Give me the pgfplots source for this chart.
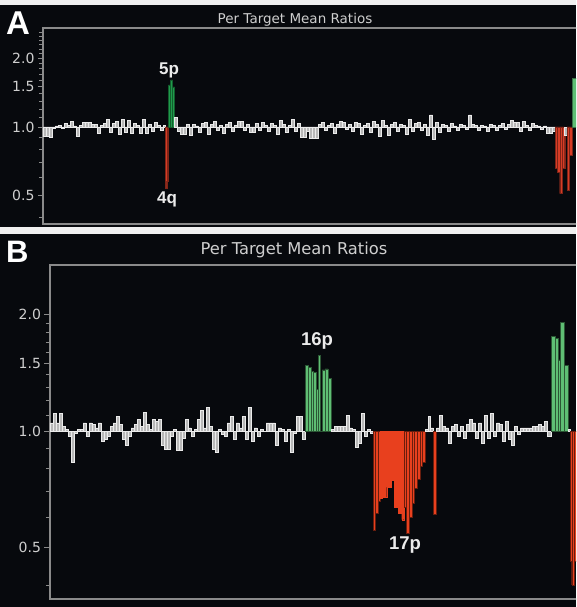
\documentclass[border=0pt]{standalone}
\usepackage{pgfplots}
\pgfplotsset{compat=1.18}
\usepackage{fontspec}
\setmainfont{DejaVu Sans}
\newfontfamily\lab{Liberation Sans}
\definecolor{bg}{HTML}{07090D}
\definecolor{framec}{HTML}{8A8A8A}
\definecolor{labc}{HTML}{CFCFCF}
\definecolor{redA}{HTML}{D63C26}
\definecolor{greenA}{HTML}{1F9A4B}
\definecolor{redB}{HTML}{E8401E}
\definecolor{greenB}{HTML}{5FBE74}
\pgfplotsset{
  wbar/.style={ybar interval, draw=white!92!black, fill=white!72!black, line width=0.6pt},
}
\begin{document}
\begin{tikzpicture}
\useasboundingbox (0pt,0pt) rectangle (576pt,607pt);
\clip (0pt,0pt) rectangle (576pt,607pt);
\fill[white!94!black] (0pt,0pt) rectangle (576pt,607pt);
\fill[bg] (0pt,380pt) rectangle (576pt,602pt);
\fill[bg] (0pt,0pt) rectangle (576pt,373pt);
% ---------------- Panel A
\begin{axis}[scale only axis, anchor=south west, ymode=log,
    xtick=\empty, ytick={0.5,1,1.5,2}, yticklabels={0.5,1.0,1.5,2.0},
    minor ytick={0.4,0.6,0.7,0.8,0.9,1.1,1.2,1.3,1.4,1.6,1.7,1.8,1.9,2.1,2.2,2.3,2.4,2.5,2.6},
    tick align=outside, ytick pos=left,
    axis line style={draw=framec, line width=1.2pt},
    major tick style={draw=framec, line width=0.9pt},
    minor tick style={draw=framec, line width=0.8pt},
    major tick length=5pt, minor tick length=3.5pt,
    yticklabel style={text=labc, font=\fontsize{14}{14}\selectfont},
  at={(43pt,383pt)}, width=539pt, height=196pt,
  xmin=43, xmax=582, ymin=0.375, ymax=2.72]
\addplot[wbar] coordinates {(43,0.91)(46,0.91)(49,0.90)(52,0.99)(55,1.01)(58,1.02)(61,0.99)(64,1.04)(67,1.02)(70,1.06)(73,1.01)(76,0.91)(79,1.02)(82,1.05)(85,1.05)(88,1.05)(91,1.03)(94,1.03)(97,0.94)(100,1.02)(103,1.04)(106,1.08)(109,0.95)(112,1.04)(115,1.06)(118,0.93)(121,1.08)(124,0.95)(127,1.07)(130,0.94)(133,1.04)(136,1.02)(139,0.94)(142,1.08)(145,0.94)(148,1.03)(151,0.96)(154,1.05)(157,1.02)(160,0.97)(163,1.02)(165,1)};
\addplot[ybar interval, fill=redA, draw=redA!60!black, line width=0.4pt] coordinates {(165,0.54)(166.7,0.58)(168.5,1)};
\addplot[ybar interval, fill=greenA, draw=greenA!60!black, line width=0.4pt] coordinates {(168.5,1.53)(170.5,1.61)(172.5,1.50)(174.5,1)};
\addplot[wbar] coordinates {(174.5,1.10)(177.5,0.96)(180.5,0.93)(183.5,0.93)(186.5,1.03)(189.5,0.92)(192.5,1.03)(195.5,1.01)(198.5,0.95)(201.5,1.04)(204.5,1.05)(207.5,0.93)(210.5,1.03)(213.5,1.06)(216.5,0.97)(219.5,1.02)(222.5,0.94)(225.5,1.03)(228.5,1.05)(231.5,0.96)(234.5,1.02)(237.5,1.06)(240.5,1.06)(243.5,0.97)(246.5,1.03)(249.5,0.95)(252.5,0.95)(255.5,1.04)(258.5,0.97)(261.5,1.05)(264.5,1.02)(267.5,0.96)(270.5,1.04)(273.5,1.02)(276.5,0.93)(279.5,1.07)(282.5,1.03)(285.5,0.95)(288.5,1.02)(291.5,1.08)(294.5,0.96)(297.5,1.04)(300.5,0.90)(303.5,0.90)(306.5,0.96)(309.5,0.89)(312.5,0.89)(315.5,0.89)(318.5,1.03)(321.5,1.05)(324.5,0.97)(327.5,1.02)(330.5,1.04)(333.5,0.94)(336.5,1.03)(339.5,1.06)(342.5,1.05)(345.5,0.98)(348.5,1.03)(351.5,0.96)(354.5,1.05)(357.5,1.04)(360.5,0.93)(363.5,1.02)(366.5,1.04)(369.5,0.95)(372.5,1.06)(375.5,1.03)(378.5,0.91)(381.5,1.07)(384.5,1.02)(387.5,0.92)(390.5,1.03)(393.5,1.05)(396.5,0.96)(399.5,1.03)(402.5,1.02)(405.5,0.93)(408.5,1.08)(411.5,0.96)(414.5,1.04)(417.5,1.05)(420.5,0.97)(423.5,1.03)(426.5,0.92)(429.5,1.13)(432.5,0.88)(435.5,1.05)(438.5,0.95)(441.5,1.03)(444.5,1.02)(447.5,0.96)(450.5,1.04)(453.5,1.01)(456.5,0.97)(459.5,1.03)(462.5,1.02)(465.5,0.98)(468.5,1.13)(471.5,1.03)(474.5,1.02)(477.5,0.97)(480.5,1.02)(483.5,1.01)(486.5,0.96)(489.5,1.03)(492.5,1.02)(495.5,0.97)(498.5,1.02)(501.5,1.04)(504.5,0.98)(507.5,1.03)(510.5,1.07)(513.5,1.05)(516.5,1.05)(519.5,0.96)(522.5,1.06)(525.5,1.02)(528.5,0.97)(531.5,1.04)(534.5,1.02)(537.5,1.01)(540.5,0.98)(543.5,1.01)(546.5,0.94)(549.5,0.94)(552.5,0.96)(555,1)};
\addplot[ybar interval, fill=redA, draw=redA!60!black, line width=0.4pt] coordinates {(555,0.66)(557.3,0.63)(559.7,0.51)(562,0.66)(564.7,1)};
\addplot[wbar] coordinates {(564.7,0.92)(567,1)};
\addplot[ybar interval, fill=redA, draw=redA!60!black, line width=0.4pt] coordinates {(567,0.53)(569.5,0.75)(572,1)};
\addplot[ybar interval, fill=greenB, draw=greenB!60!black, line width=0.4pt] coordinates {(572,1.64)(582,1)};
\end{axis}
% ---------------- Panel B
\begin{axis}[scale only axis, anchor=south west, ymode=log,
    xtick=\empty, ytick={0.5,1,1.5,2}, yticklabels={0.5,1.0,1.5,2.0},
    minor ytick={0.4,0.6,0.7,0.8,0.9,1.1,1.2,1.3,1.4,1.6,1.7,1.8,1.9},
    tick align=outside, ytick pos=left,
    axis line style={draw=framec, line width=1.2pt},
    major tick style={draw=framec, line width=0.9pt},
    minor tick style={draw=framec, line width=0.8pt},
    major tick length=5.5pt, minor tick length=4pt,
    yticklabel style={text=labc, font=\fontsize{14}{14}\selectfont},
  at={(50pt,8pt)}, width=532pt, height=334pt,
  xmin=50, xmax=582, ymin=0.368, ymax=2.69]
\addplot[wbar] coordinates {(50,1.05)(53,1.11)(56,1.05)(59,1.11)(62,1.03)(65,1.01)(68,0.97)(71,0.83)(74,0.99)(77,1.01)(80,1.01)(83,1.05)(86,0.97)(89,1.05)(92,1.04)(95,1.02)(98,1.05)(101,0.94)(104,0.95)(107,0.97)(110,1.03)(113,1.05)(116,1.09)(119,1.04)(122,0.95)(125,0.92)(128,0.97)(131,1.02)(134,1.04)(137,1.07)(140,1.03)(143,1.12)(146,1.04)(149,1.01)(152,1.07)(155,1.06)(158,1.07)(161,0.92)(164,0.90)(167,0.90)(170,0.97)(173,1.01)(176,0.89)(179,0.89)(182,0.96)(185,1.07)(188,1.02)(191,0.97)(194,1.01)(197,1.07)(200,1.13)(203,1.02)(206,1.15)(209,1.03)(212,0.90)(215,0.88)(218,1.01)(221,0.98)(224,0.97)(227,1.05)(230,1.09)(233,0.95)(236,1.05)(239,1.02)(242,1.09)(245,0.95)(248,1.15)(251,0.94)(254,1.02)(257,0.97)(260,1.01)(263,1.00)(266,1.05)(269,1.05)(272,1.05)(275,0.92)(278,1.02)(281,1.01)(284,0.94)(287,1.01)(290,0.88)(293,0.99)(296,1.09)(299,1.09)(302,0.95)(305,1)};
\addplot[ybar interval, fill=greenB, draw=greenB!45!black, line width=0.5pt] coordinates {(305,1.48)(308,1.46)(311,1.43)(313.5,1.42)(316,1.28)(318,1.57)(320,1.0)(322,1.44)(325,1.45)(328,1.37)(331,1)};
\addplot[wbar] coordinates {(331,1.01)(334,1.03)(337,1.03)(340,1.03)(343,1.03)(346,1.10)(349,1.02)(352,1.01)(355,0.91)(358,0.93)(361,1.11)(364,0.97)(367,1.01)(370,0.99)(373.3,1)};
\addplot[ybar interval, fill=redB, draw=redB!45!black, line width=0.5pt] coordinates {(373.3,0.555)(375.7,0.614)(378,0.66)(380,1)};
\addplot[ybar interval, fill=redB, draw=redB, line width=0.3pt] coordinates {(380,0.67)(382.3,0.675)(386.7,0.717)(391,0.747)(394.3,0.637)(398.3,0.614)(401.7,0.59)(404.3,1)};
\addplot[ybar interval, fill=redB, draw=redB!45!black, line width=0.5pt] coordinates {(404.3,0.637)(406.7,0.545)(409.3,0.60)(412,0.65)(414.7,0.71)(417.3,0.75)(420,0.81)(422.7,0.83)(425.3,1)};
\addplot[wbar] coordinates {(425.3,1.01)(428,1.09)(430.7,1.02)(433.3,1)};
\addplot[ybar interval, fill=redB, draw=redB!45!black, line width=0.5pt] coordinates {(433.3,0.61)(436.7,1)};
\addplot[wbar] coordinates {(436.7,1.02)(439.7,1.10)(442.7,1.03)(445.7,1.02)(448.7,0.93)(451.7,1.03)(454.7,1.04)(457.7,0.97)(460.7,1.03)(463.7,0.96)(466.7,1.04)(469.7,1.07)(472.7,1.05)(475.7,0.96)(478.7,1.05)(481.7,0.93)(484.7,1.10)(487.7,0.96)(490.7,1.11)(493.7,0.97)(496.7,1.05)(499.7,1.04)(502.7,0.94)(505.7,1.06)(508.7,0.95)(511.7,0.92)(514.7,1.03)(517.7,0.98)(520.7,1.02)(523.7,1.02)(526.7,1.02)(529.7,1.02)(532.7,1.03)(535.7,1.03)(538.7,1.04)(541.7,1.03)(544.7,1.06)(547.7,0.97)(551.7,1)};
\addplot[ybar interval, fill=greenB, draw=greenB!45!black, line width=0.5pt] coordinates {(551.7,1.76)(555,1.74)(558.3,1.53)(560.7,1.91)(564,1.48)(568.3,1)};
\addplot[wbar] coordinates {(568.3,1.01)(570,1)};
\addplot[ybar interval, fill=redB, draw=redB!45!black, line width=0.4pt] coordinates {(570,0.46)(571.7,0.40)(574,0.46)(582,1)};
\end{axis}
% ---------------- texts
\node[anchor=base, text=labc, font=\fontsize{13.5}{14}\selectfont, inner sep=0pt] at (295pt,583pt) {Per Target Mean Ratios};
\node[anchor=base, text=labc, font=\fontsize{16.3}{16}\selectfont, inner sep=0pt] at (294pt,352pt) {Per Target Mean Ratios};
\node[anchor=base west, text=white, font=\lab\bfseries\fontsize{33}{33}\selectfont, inner sep=0pt] at (6pt,572pt) {A};
\node[anchor=base west, text=white, font=\lab\bfseries\fontsize{31}{31}\selectfont, inner sep=0pt] at (6pt,344pt) {B};
\node[anchor=base, text=white!92!black, font=\lab\bfseries\fontsize{17}{17}\selectfont, inner sep=0pt] at (169pt,532pt) {5p};
\node[anchor=base, text=white!92!black, font=\lab\bfseries\fontsize{17}{17}\selectfont, inner sep=0pt] at (167pt,403pt) {4q};
\node[anchor=base, text=white!92!black, font=\lab\bfseries\fontsize{18.5}{18}\selectfont, inner sep=0pt] at (317pt,261pt) {16p};
\node[anchor=base, text=white!92!black, font=\lab\bfseries\fontsize{18.5}{18}\selectfont, inner sep=0pt] at (405pt,57pt) {17p};
\end{tikzpicture}
\end{document}
